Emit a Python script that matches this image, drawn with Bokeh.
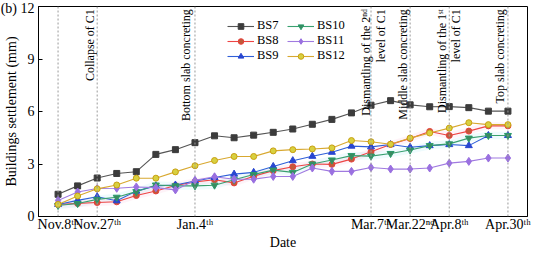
from bokeh.plotting import figure
from bokeh.models import Span, Label, Legend, LegendItem, FixedTicker, Range1d
from bokeh.embed import file_html
from bokeh.resources import INLINE
import numpy as np

idx = list(range(24))
tick_idx = [0, 2, 7, 16, 18, 20, 23]
tick_labels = ["Nov.8ᵗʰ", "Nov.27ᵗʰ", "Jan.4ᵗʰ", "Mar.7ᵗʰ", "Mar.22ⁿᵈ", "Apr.8ᵗʰ", "Apr.30ᵗʰ"]
y_ticks = [0, 3, 6, 9, 12]

BS7 = [1.27, 1.75, 2.2, 2.46, 2.56, 3.55, 3.82, 4.22, 4.61, 4.5, 4.65, 4.81, 5.0, 5.27, 5.55, 5.92, 6.36, 6.62, 6.38, 6.27, 6.28, 6.22, 6.02, 6.02]
BS8 = [0.69, 0.75, 0.8, 0.84, 1.2, 1.46, 1.77, 1.98, 2.1, 1.92, 2.3, 2.62, 2.84, 3.0, 2.98, 3.28, 3.7, 4.12, 4.46, 4.86, 4.63, 4.88, 5.18, 5.18]
BS9 = [0.69, 0.92, 1.13, 0.9, 1.45, 1.75, 1.8, 2.03, 2.23, 2.42, 2.52, 2.86, 3.19, 3.44, 3.67, 4.02, 3.98, 4.11, 3.96, 4.05, 4.11, 4.05, 4.63, 4.63]
BS10 = [0.63, 0.74, 0.98, 1.1, 1.42, 1.8, 1.75, 1.75, 1.79, 2.1, 2.4, 2.65, 2.52, 3.0, 3.23, 3.48, 3.45, 3.6, 3.8, 4.05, 4.15, 4.48, 4.63, 4.63]
BS11 = [0.92, 1.4, 1.6, 1.61, 1.69, 1.65, 1.52, 2.07, 2.27, 2.13, 2.13, 2.29, 2.29, 2.77, 2.58, 2.58, 2.8, 2.71, 2.71, 2.77, 3.05, 3.15, 3.34, 3.34]
BS12 = [0.69, 1.17, 1.58, 1.8, 2.19, 2.19, 2.55, 2.9, 3.2, 3.43, 3.43, 3.75, 3.82, 3.86, 3.92, 4.34, 4.27, 4.13, 4.48, 4.77, 5.05, 5.36, 5.25, 5.25]

events = [
    (1.62, "Collapse of C1"),
    (6.55, "Bottom slab concreting"),
    (15.75, "Dismantling of the 2ⁿᵈ"),
    (16.5, "level of C1"),
    (17.65, "Middle slab concreting"),
    (19.62, "Dismantling of the 1ˢᵗ"),
    (20.35, "level of C1"),
    (22.6, "Top slab concreting"),
]

FONT = "Liberation Serif"

p = figure(width=540, height=252, output_backend="svg", toolbar_location=None,
           x_range=Range1d(-1.0, 24.0), y_range=Range1d(0, 12),
           min_border_left=34, min_border_right=13, min_border_top=6, min_border_bottom=30)
p.background_fill_color = "white"
p.border_fill_color = "white"
p.outline_line_color = "black"
p.outline_line_width = 1
p.xgrid.visible = False
p.ygrid.visible = False

# axes
p.xaxis.ticker = FixedTicker(ticks=tick_idx)
p.xaxis.major_label_overrides = {i: l for i, l in zip(tick_idx, tick_labels)}
p.yaxis.ticker = FixedTicker(ticks=y_ticks)
p.yaxis.major_label_overrides = {12: "(b) 12"}
for ax in (p.xaxis, p.yaxis):
    ax.major_tick_in = 4
    ax.major_tick_out = 0
    ax.minor_tick_in = 0
    ax.minor_tick_out = 0
    ax.axis_line_color = "black"
    ax.major_tick_line_color = "black"
    ax.major_label_text_font = FONT
    ax.major_label_text_font_size = "14px"
    ax.major_label_text_color = "black"
    ax.axis_label_text_font = FONT
    ax.axis_label_text_font_style = "normal"
    ax.axis_label_text_font_size = "14px"
    ax.axis_label_text_color = "black"
p.xaxis.major_tick_in = 0
p.xaxis.axis_label = "Date"
p.xaxis.major_label_standoff = 0
p.xaxis.axis_label_standoff = 0
p.yaxis.axis_label = "Buildings settlement (mm)"
p.yaxis.major_label_standoff = 4
p.yaxis.axis_label_standoff = -21

# event lines
for t in tick_idx:
    p.add_layout(Span(location=t, dimension="height", line_color="#9a9a9a",
                      line_dash="2 2", line_width=1))

# faint bands
p.varea(x=idx, y1=np.array(BS10) - 0.22, y2=np.array(BS10) + 0.22, fill_color="#7fe0f0", fill_alpha=0.12)
p.varea(x=idx, y1=np.array(BS8) - 0.2, y2=np.array(BS8) + 0.2, fill_color="#f7a0c8", fill_alpha=0.12)

series = [
    ("BS7", BS7, "#555555", "#3c3c3c", "#3c3c3c", "square", 6),
    ("BS8", BS8, "#ee4444", "#e8403c", "#c05a3a", "circle", 6),
    ("BS9", BS9, "#2f5fd8", "#2846d0", "#2846d0", "triangle", 7),
    ("BS10", BS10, "#3aa070", "#2a9a6a", "#3a8a60", "inverted_triangle", 7),
    ("BS11", BS11, "#a07ae0", "#9a70e0", "#9a70e0", "diamond", 8),
    ("BS12", BS12, "#d8a830", "#c8a010", "#d8d040", "circle", 6),
]

items = {}
for name, ys, lc, mlc, mfc, mk, ms in series:
    l = p.line(idx, ys, line_color=lc, line_width=1.1)
    m = p.scatter(idx, ys, marker=mk, size=ms, line_color=mlc, fill_color=mfc, line_width=1)
    items[name] = LegendItem(label=name, renderers=[l, m])

# annotations
for xv, txt in events:
    p.add_layout(Label(x=xv, y=11.85, text=txt, angle=np.pi / 2, text_align="right",
                       text_baseline="middle", text_font=FONT, text_font_size="12px",
                       text_color="black"))

def mk_legend(names, loc):
    lg = Legend(items=[items[n] for n in names], location=loc, orientation="vertical",
                background_fill_alpha=0, border_line_alpha=0, padding=0, margin=0,
                spacing=0, glyph_width=27, glyph_height=14, label_height=14,
                label_standoff=3, label_text_font=FONT, label_text_font_size="12.5px",
                label_text_color="black")
    p.add_layout(lg)

mk_legend(["BS7", "BS8", "BS9"], (189, 153))
mk_legend(["BS10", "BS11", "BS12"], (249, 153))

open("out.html", "w").write(file_html(p, INLINE))
